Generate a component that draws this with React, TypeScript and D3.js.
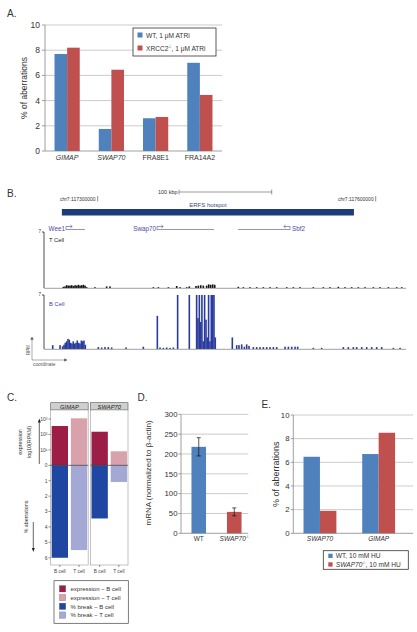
import React from 'react';
import * as d3 from 'd3';

const FONT = "'Liberation Sans', Arial, Helvetica, sans-serif";
const BLUE = '#4F81BD';
const RED = '#C0504D';
const GRID = '#BEBEBE';
const TXT = '#333333';

// ---------- Panel A ----------
const aCategories = ['GIMAP', 'SWAP70', 'FRA8E1', 'FRA14A2'];
const aItalic = [true, true, false, false];
const aWT = [7.7, 1.75, 2.6, 7.0];
const aXRCC2 = [8.2, 6.45, 2.7, 4.45];
const aTicks = [0, 2, 4, 6, 8, 10];

// ---------- Panel B (genomic positions in kb) ----------
const bDomain = [117242.1, 117632.7];
const bCoordTicks = [117300, 117600];
const bHotspot = [117261.4, 117576.5];
const bScaleBar = [117387.8, 117487.8];
const geneNames = ['Wee1', 'Swap70', 'Sbf2'];
const geneStart = [117265.8, 117364.0, 117451.5];
const geneEnd = [117286.3, 117425.5, 117507.6];
const geneStrand = [1, 1, -1];
const tCellPos = [
  117263.0, 117264.8, 117266.6, 117268.4, 117270.2, 117272.0, 117273.8, 117275.6, 117277.4, 117279.2,
  117281.0, 117282.8, 117284.6, 117286.4, 117288.2, 117297.1, 117309.7, 117313.3, 117360.1, 117365.5,
  117376.3, 117385.3, 117388.9, 117396.1, 117398.9, 117406.1, 117408.6, 117411.2, 117414.0, 117417.6,
  117419.8, 117421.9, 117424.1, 117426.3, 117451.8, 117457.2, 117464.4, 117471.6, 117478.8, 117486.0,
  117493.2, 117504.0, 117511.2, 117518.4, 117532.7, 117543.5, 117550.7, 117559.7, 117566.9, 117574.1,
  117581.3, 117588.5, 117597.5, 117604.7, 117613.7, 117622.7, 117628.1,
];
const tCellVal = [
  0.15, 0.2, 0.35, 0.3, 0.3, 0.35, 0.25, 0.35, 0.3, 0.4,
  0.3, 0.35, 0.4, 0.3, 0.1, 0.1, 0.2, 0.2, 0.1, 0.1,
  0.1, 0.25, 0.1, 0.1, 0.2, 0.25, 0.3, 0.35, 0.3, 0.3,
  0.45, 0.4, 0.45, 0.4, 0.15, 0.1, 0.1, 0.1, 0.1, 0.1,
  0.1, 0.1, 0.1, 0.1, 0.1, 0.1, 0.1, 0.15, 0.1, 0.1,
  0.1, 0.1, 0.1, 0.1, 0.1, 0.1, 0.1,
];
const bCellPos = [
  117251.5, 117259.4, 117262.2, 117263.7, 117265.1, 117266.5, 117268.0, 117269.4, 117270.9, 117272.3,
  117273.7, 117275.2, 117276.6, 117278.0, 117279.5, 117280.9, 117282.4, 117283.8, 117285.2, 117286.7,
  117300.7, 117304.3, 117307.9, 117311.5, 117315.1, 117330.6, 117349.3, 117364.4, 117367.3, 117370.9,
  117374.5, 117378.1, 117381.7, 117386.3, 117398.9, 117406.8, 117408.2, 117409.7, 117411.1, 117412.5,
  117414.0, 117415.4, 117416.9, 117418.3, 117419.7, 117421.2, 117422.6, 117424.0, 117425.5, 117426.9,
  117445.3, 117450.0, 117452.5, 117455.4, 117458.3, 117460.8, 117463.3, 117468.0, 117471.6, 117475.2,
  117478.8, 117482.4, 117486.0, 117489.6, 117493.2, 117502.2, 117505.8, 117509.4, 117513.0, 117515.8,
  117532.7, 117541.7, 117565.1, 117570.5, 117575.9, 117579.5, 117584.9, 117590.3, 117595.7, 117601.1,
  117606.5, 117619.1, 117626.3,
];
const bCellVal = [
  0.5, 0.5, 0.35, 0.55, 0.8, 1.0, 1.3, 1.2, 0.8, 0.7,
  1.0, 0.7, 0.8, 1.1, 0.8, 0.7, 1.1, 1.0, 1.1, 0.55,
  0.25, 0.2, 0.25, 0.25, 0.2, 0.2, 0.3, 4.3, 0.2, 0.15,
  0.2, 0.15, 0.2, 7, 7, 7, 4.0, 7, 3.5, 7,
  1.0, 7, 3.8, 1.5, 7, 1.0, 7, 7, 7, 1.5,
  1.5, 0.5, 0.5, 0.6, 0.3, 0.6, 0.4, 0.25, 0.25, 0.25,
  0.25, 0.25, 0.25, 0.25, 0.25, 0.3, 0.3, 0.3, 0.3, 0.3,
  0.15, 0.15, 0.25, 0.25, 0.25, 0.25, 0.25, 0.25, 0.25, 0.25,
  0.25, 0.15, 0.15,
];

// ---------- Panel C ----------
const cGenes = ['GIMAP', 'SWAP70'];
const cCells = ['B cell', 'T cell'];
const cExprB = [2.55, 2.18];
const cExprT = [3.05, 0.91];
const cBreakB = [6.0, 3.45];
const cBreakT = [5.5, 1.08];
const cExprTicks = [1, 2, 3];
const cExprTickLabels = ['10¹', '10²', '10³'];
const cBreakTicks = [1, 2, 3, 4, 5, 6];
const cLegend = ['expression − B cell', 'expression − T cell', '% break − B cell', '% break − T cell'];
const cColors = ['#9C1D45', '#D8A2AD', '#1F46A0', '#A3A9D4'];

// ---------- Panel D ----------
const dGroups = ['WT', 'SWAP70'];
const dMeans = [218, 54];
const dErr = [23, 10];
const dTicks = [0, 50, 100, 150, 200, 250, 300];

// ---------- Panel E ----------
const eCats = ['SWAP70', 'GIMAP'];
const eWT = [6.47, 6.7];
const eSWAP = [1.9, 8.5];
const eTicks = [0, 2, 4, 6, 8, 10];

function KO({ base, italic, size, rest }: { base: string; italic?: boolean; size: number; rest?: string }) {
  const up = size * 0.4;
  return (
    <>
      <tspan fontStyle={italic ? 'italic' : 'normal'}>{base}</tspan>
      <tspan dy={-up} fontSize={size * 0.5}>-/-</tspan>
      {rest ? <tspan dy={up}>{rest}</tspan> : null}
    </>
  );
}

function PanelA() {
  const y = d3.scaleLinear().domain([0, 10]).range([151, 25]);
  const x = d3.scaleBand<string>().domain(aCategories).range([45, 222]).paddingInner(0.43).paddingOuter(0.215);
  const bw = x.bandwidth() / 2;
  return (
    <g>
      <text x={7} y={17} fontSize={10} fill={TXT}>A.</text>
      {aTicks.map((t) => (
        <g key={t}>
          <line x1={45} x2={222} y1={y(t)} y2={y(t)} stroke={t === 0 ? '#888' : GRID} strokeWidth={0.8} />
          <line x1={42} x2={45} y1={y(t)} y2={y(t)} stroke="#888" strokeWidth={0.8} />
          <text x={40} y={y(t) + 3} fontSize={8.5} textAnchor="end" fill={TXT}>{t}</text>
        </g>
      ))}
      <line x1={45} x2={45} y1={y(10)} y2={y(0)} stroke="#888" strokeWidth={0.8} />
      {aCategories.map((c, i) => (
        <g key={c}>
          <rect x={x(c)!} y={y(aWT[i])} width={bw} height={y(0) - y(aWT[i])} fill={BLUE} />
          <rect x={x(c)! + bw} y={y(aXRCC2[i])} width={bw} height={y(0) - y(aXRCC2[i])} fill={RED} />
          <text x={x(c)! + x.bandwidth() / 2} y={159.5} fontSize={7} textAnchor="middle" fill={TXT}
            fontStyle={aItalic[i] ? 'italic' : 'normal'}>{c}</text>
        </g>
      ))}
      <text transform={`translate(27,${(y(0) + y(10)) / 2}) rotate(-90)`} fontSize={8.5} textAnchor="middle" fill={TXT}>% of aberrations</text>
      <rect x={133} y={28} width={83} height={28} fill="#fff" stroke="#333" strokeWidth={0.8} />
      <rect x={137.5} y={32.5} width={5} height={5} fill={BLUE} />
      <text x={146} y={37.5} fontSize={6.6} fill={TXT}>WT, 1 μM ATRi</text>
      <rect x={137.5} y={45.5} width={5} height={5} fill={RED} />
      <text x={146} y={50.5} fontSize={6.6} fill={TXT}>
        <KO base="XRCC2" size={6.6} rest=", 1 μM ATRi" />
      </text>
    </g>
  );
}

function PanelB() {
  const x = d3.scaleLinear().domain(bDomain).range([44, 406]);
  const yT = d3.scaleLinear().domain([0, 7]).range([288, 232]).clamp(true);
  const yB = d3.scaleLinear().domain([0, 7]).range([349, 295]).clamp(true);
  const geneColor = '#4A4AA8';
  const barW = 1.6;
  return (
    <g>
      <text x={7} y={197} fontSize={10} fill={TXT}>B.</text>
      <text x={x(bScaleBar[0]) - 1.5} y={194} fontSize={5.5} textAnchor="end" fill={TXT}>100 kbp</text>
      <line x1={x(bScaleBar[0])} x2={x(bScaleBar[1])} y1={192} y2={192} stroke="#555" strokeWidth={0.6} />
      <line x1={x(bScaleBar[0])} x2={x(bScaleBar[0])} y1={189.5} y2={194.5} stroke="#555" strokeWidth={0.6} />
      <line x1={x(bScaleBar[1])} x2={x(bScaleBar[1])} y1={189.5} y2={194.5} stroke="#555" strokeWidth={0.6} />
      {bCoordTicks.map((c) => (
        <g key={c}>
          <text x={x(c) - 2} y={201} fontSize={5} textAnchor="end" fill={TXT}>{`chr7:${c}000`}</text>
          <line x1={x(c)} x2={x(c)} y1={196} y2={201.5} stroke="#444" strokeWidth={0.6} />
        </g>
      ))}
      <text x={(x(bHotspot[0]) + x(bHotspot[1])) / 2} y={207} fontSize={6} textAnchor="middle" fill="#3A4A7A">ERFS hotspot</text>
      <rect x={x(bHotspot[0])} y={209} width={x(bHotspot[1]) - x(bHotspot[0])} height={6.5} fill="#1B3B7B" />
      {geneNames.map((g, i) => {
        const s = x(geneStart[i]);
        const e = x(geneEnd[i]);
        const ly = 229.5;
        const arrowX = geneStrand[i] > 0 ? s : e;
        const dir = geneStrand[i];
        return (
          <g key={g} stroke={geneColor} strokeWidth={0.6} fill="none">
            <line x1={s} x2={e} y1={ly} y2={ly} />
            <path d={`M${arrowX},${ly} V${ly - 3} H${arrowX + dir * 6}`} />
            <path d={`M${arrowX + dir * 4.5},${ly - 4.5} L${arrowX + dir * 6.3},${ly - 3} L${arrowX + dir * 4.5},${ly - 1.5}`} />
            <text x={dir > 0 ? s - 1 : e + 2} y={ly + 1.5} fontSize={6.3} stroke="none" fill={geneColor}
              textAnchor={dir > 0 ? 'end' : 'start'}>{g}</text>
          </g>
        );
      })}
      {/* T cell track */}
      <line x1={44} x2={44} y1={232} y2={288} stroke="#222" strokeWidth={0.8} />
      <line x1={42} x2={44} y1={232} y2={232} stroke="#222" strokeWidth={0.8} />
      <text x={41} y={233} fontSize={4.5} textAnchor="end" fill={TXT}>7</text>
      <text x={49} y={242} fontSize={5.8} fill="#222">T Cell</text>
      {tCellPos.map((p, i) => (
        <rect key={i} x={x(p) - barW / 2} y={yT(tCellVal[i])} width={barW} height={yT(0) - yT(tCellVal[i])} fill="#111" />
      ))}
      <line x1={44} x2={406} y1={288.3} y2={288.3} stroke="#777" strokeWidth={0.7} />
      {/* B cell track */}
      <line x1={44} x2={44} y1={295} y2={349} stroke="#222" strokeWidth={0.8} />
      <line x1={42} x2={44} y1={295} y2={295} stroke="#222" strokeWidth={0.8} />
      <text x={41} y={296} fontSize={4.5} textAnchor="end" fill={TXT}>7</text>
      <text x={49} y={306} fontSize={5.8} fill="#3B48A8">B Cell</text>
      {bCellPos.map((p, i) => (
        <rect key={i} x={x(p) - barW / 2} y={yB(bCellVal[i])} width={barW} height={yB(0) - yB(bCellVal[i])} fill="#2A3B9E" />
      ))}
      <line x1={44} x2={406} y1={349.3} y2={349.3} stroke="#777" strokeWidth={0.7} />
      <g stroke="#555" strokeWidth={0.5} fill="none">
        <line x1={32} x2={32} y1={360} y2={338} />
        <path d="M30.8,339.5 L32,337 L33.2,339.5 Z" fill="#555" />
        <line x1={32} x2={66} y1={360} y2={360} />
        <path d="M64.5,358.8 L67,360 L64.5,361.2 Z" fill="#555" />
      </g>
      <text transform="translate(29.5,350) rotate(-90)" fontSize={4.5} textAnchor="middle" fill="#555">RPM</text>
      <text x={33} y={366} fontSize={4.8} fill="#555">coordinate</text>
    </g>
  );
}

function PanelC() {
  const y = d3.scaleLinear().domain([-6.47, 3.59]).range([565, 410]);
  const fx = d3.scaleBand<string>().domain(cGenes).range([50.7, 128]).paddingInner(0.06).paddingOuter(0);
  const ix = d3.scaleBand<string>().domain(cCells).range([0, fx.bandwidth()]).paddingInner(0.15).paddingOuter(0.05);
  const series = [cExprB, cExprT, cBreakB, cBreakT];
  return (
    <g>
      <text x={7} y={401} fontSize={10} fill={TXT}>C.</text>
      {cGenes.map((g, gi) => {
        const x0 = fx(g)!;
        return (
          <g key={g}>
            <rect x={x0} y={402.7} width={fx.bandwidth()} height={7.3} fill="#CFCFCF" stroke="#555" strokeWidth={0.6} />
            <text x={x0 + fx.bandwidth() / 2} y={408.7} fontSize={5.8} fontStyle="italic" textAnchor="middle" fill="#222">{g}</text>
            <rect x={x0} y={410} width={fx.bandwidth()} height={155} fill="#fff" stroke="#999" strokeWidth={0.6} />
            {cCells.map((c, ci) => {
              const ev = series[ci][gi];
              const bv = series[ci + 2][gi];
              const bx = x0 + ix(c)!;
              return (
                <g key={c}>
                  <rect x={bx} y={y(ev)} width={ix.bandwidth()} height={y(0) - y(ev)} fill={cColors[ci]} />
                  <rect x={bx} y={y(0)} width={ix.bandwidth()} height={y(-bv) - y(0)} fill={cColors[ci + 2]} />
                  <line x1={bx + ix.bandwidth() / 2} x2={bx + ix.bandwidth() / 2} y1={565} y2={567} stroke="#444" strokeWidth={0.6} />
                  <text x={bx + ix.bandwidth() / 2} y={572.5} fontSize={4.8} textAnchor="middle" fill="#444">{c}</text>
                </g>
              );
            })}
            <line x1={x0} x2={x0 + fx.bandwidth()} y1={y(0)} y2={y(0)} stroke="#333" strokeWidth={0.7} />
          </g>
        );
      })}
      <line x1={48.5} x2={50.7} y1={y(0)} y2={y(0)} stroke="#444" strokeWidth={0.6} />
      <text x={47.5} y={y(0) + 1.8} fontSize={5} textAnchor="end" fill="#444">0</text>
      {cExprTicks.map((t, i) => (
        <g key={'e' + t}>
          <line x1={48.5} x2={50.7} y1={y(t)} y2={y(t)} stroke="#444" strokeWidth={0.6} />
          <text x={47.5} y={y(t) + 1.8} fontSize={5} textAnchor="end" fill="#444">{cExprTickLabels[i]}</text>
        </g>
      ))}
      {cBreakTicks.map((t) => (
        <g key={'b' + t}>
          <line x1={48.5} x2={50.7} y1={y(-t)} y2={y(-t)} stroke="#444" strokeWidth={0.6} />
          <text x={47.5} y={y(-t) + 1.8} fontSize={5} textAnchor="end" fill="#444">{t}</text>
        </g>
      ))}
      <text transform={`translate(22,442) rotate(-90)`} fontSize={5.3} textAnchor="middle" fill="#333">expression</text>
      <text transform={`translate(30.5,442) rotate(-90)`} fontSize={5.3} textAnchor="middle" fill="#333">log10(RPKM)</text>
      <line x1={39.3} x2={39.3} y1={464} y2={421} stroke="#222" strokeWidth={0.7} />
      <path d="M37.8,422.5 L39.3,418.5 L40.8,422.5 Z" fill="#222" />
      <text transform={`translate(28,517) rotate(-90)`} fontSize={5.3} textAnchor="middle" fill="#333">% aberrations</text>
      <line x1={33.3} x2={33.3} y1={522} y2={549} stroke="#222" strokeWidth={0.7} />
      <path d="M31.8,548 L33.3,552 L34.8,548 Z" fill="#222" />
      <rect x={54} y={580.7} width={74.3} height={42.6} fill="#fff" stroke="#444" strokeWidth={0.7} />
      {cLegend.map((l, i) => (
        <g key={l}>
          <rect x={59.3} y={585.5 + i * 8.8} width={6.5} height={6.5} fill={cColors[i]} stroke="#777" strokeWidth={0.3} />
          <text x={70.5} y={591 + i * 8.8} fontSize={6} fill="#333">{l}</text>
        </g>
      ))}
    </g>
  );
}

function PanelD() {
  const y = d3.scaleLinear().domain([0, 300]).range([533.3, 414.3]);
  const x = d3.scaleBand<string>().domain(dGroups).range([181, 252]).paddingInner(0.59).paddingOuter(0.295);
  return (
    <g>
      <text x={137.5} y={401} fontSize={10} fill={TXT}>D.</text>
      {dTicks.map((t) => (
        <g key={t}>
          <line x1={181} x2={248.3} y1={y(t)} y2={y(t)} stroke={t === 0 ? '#888' : GRID} strokeWidth={0.8} />
          <line x1={178.5} x2={181} y1={y(t)} y2={y(t)} stroke="#888" strokeWidth={0.8} />
          <text x={177.5} y={y(t) + 2.8} fontSize={7.8} textAnchor="end" fill={TXT}>{t}</text>
        </g>
      ))}
      <line x1={181} x2={181} y1={y(300)} y2={y(0)} stroke="#888" strokeWidth={0.8} />
      {dGroups.map((g, i) => {
        const cx = x(g)! + x.bandwidth() / 2;
        return (
          <g key={g}>
            <rect x={x(g)!} y={y(dMeans[i])} width={x.bandwidth()} height={y(0) - y(dMeans[i])} fill={i === 0 ? BLUE : RED} />
            <g stroke="#111" strokeWidth={0.7}>
              <line x1={cx} x2={cx} y1={y(dMeans[i] + dErr[i])} y2={y(dMeans[i] - dErr[i])} />
              <line x1={cx - 2} x2={cx + 2} y1={y(dMeans[i] + dErr[i])} y2={y(dMeans[i] + dErr[i])} />
              <line x1={cx - 2} x2={cx + 2} y1={y(dMeans[i] - dErr[i])} y2={y(dMeans[i] - dErr[i])} />
            </g>
            <text x={cx} y={541} fontSize={6.5} textAnchor="middle" fill={TXT}>
              {i === 0 ? g : <KO base={g} italic size={6.5} />}
            </text>
          </g>
        );
      })}
      <text transform={`translate(151,473) rotate(-90)`} fontSize={8} textAnchor="middle" fill={TXT}>mRNA (normalized to β-actin)</text>
    </g>
  );
}

function PanelE() {
  const y = d3.scaleLinear().domain([0, 10]).range([533.3, 415]);
  const x = d3.scaleBand<string>().domain(eCats).range([290.6, 408]).paddingInner(0.44).paddingOuter(0.22);
  const bw = x.bandwidth() / 2;
  return (
    <g>
      <text x={261.5} y={408} fontSize={10} fill={TXT}>E.</text>
      {eTicks.map((t) => (
        <g key={t}>
          <line x1={293.3} x2={413} y1={y(t)} y2={y(t)} stroke={t === 0 ? '#888' : GRID} strokeWidth={0.8} />
          <line x1={290.8} x2={293.3} y1={y(t)} y2={y(t)} stroke="#888" strokeWidth={0.8} />
          <text x={289.5} y={y(t) + 2.8} fontSize={7.8} textAnchor="end" fill={TXT}>{t}</text>
        </g>
      ))}
      <line x1={293.3} x2={293.3} y1={y(10)} y2={y(0)} stroke="#888" strokeWidth={0.8} />
      {eCats.map((c, i) => (
        <g key={c}>
          <rect x={x(c)!} y={y(eWT[i])} width={bw} height={y(0) - y(eWT[i])} fill={BLUE} />
          <rect x={x(c)! + bw} y={y(eSWAP[i])} width={bw} height={y(0) - y(eSWAP[i])} fill={RED} />
          <text x={x(c)! + x.bandwidth() / 2} y={541} fontSize={6.5} fontStyle="italic" textAnchor="middle" fill={TXT}>{c}</text>
        </g>
      ))}
      <text transform={`translate(279,${(y(0) + y(10)) / 2}) rotate(-90)`} fontSize={9} textAnchor="middle" fill={TXT}>% of aberrations</text>
      <rect x={323.3} y={550.7} width={85} height={18.6} fill="#fff" stroke="#333" strokeWidth={0.8} />
      <rect x={328.3} y={553.7} width={4.3} height={4.3} fill={BLUE} />
      <text x={335.8} y={558.2} fontSize={6.6} fill={TXT}>WT, 10 mM HU</text>
      <rect x={328.3} y={562.3} width={4.3} height={4.3} fill={RED} />
      <text x={335.8} y={566.8} fontSize={6.6} fill={TXT}>
        <KO base="SWAP70" italic size={6.6} rest=", 10 mM HU" />
      </text>
    </g>
  );
}

export default function App() {
  return (
    <svg width={417} height={632} viewBox="0 0 417 632"
      style={{ position: 'absolute', left: 0, top: 0, background: '#fff' }}
      fontFamily={FONT}>
      <rect x={0} y={0} width={417} height={632} fill="#fff" />
      <PanelA />
      <PanelB />
      <PanelC />
      <PanelD />
      <PanelE />
    </svg>
  );
}
